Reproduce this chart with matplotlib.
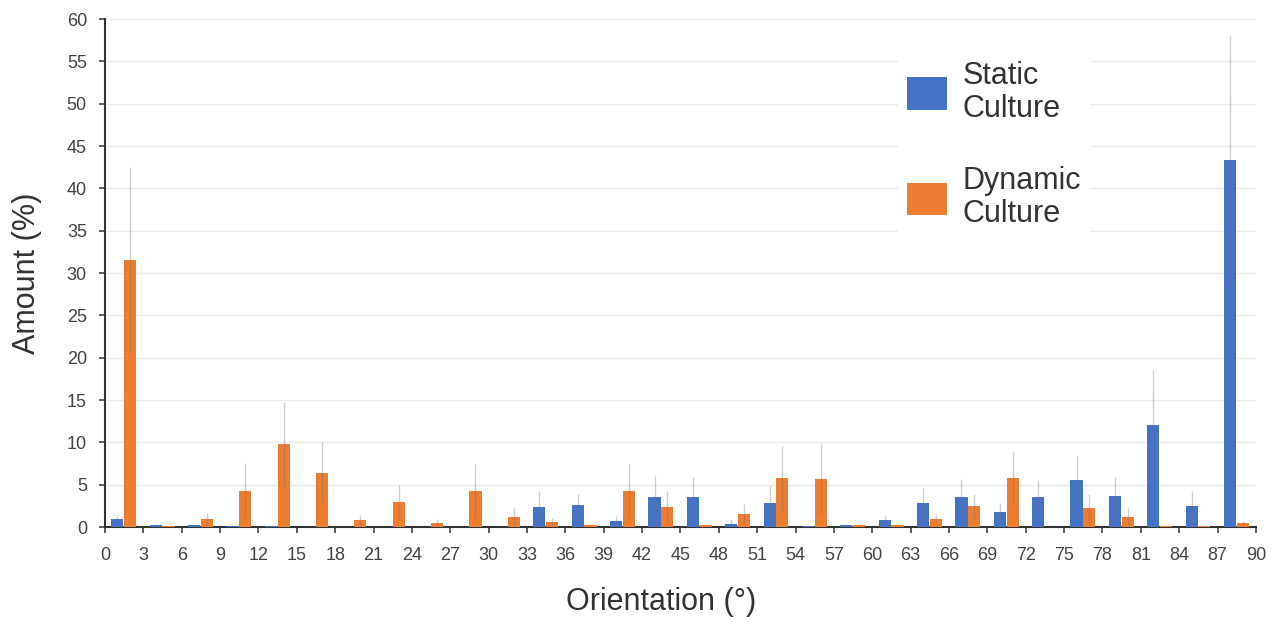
import matplotlib
matplotlib.use("Agg")
from matplotlib import pyplot as plt
import numpy as np

plt.rcParams['font.family'] = ['Liberation Sans', 'DejaVu Sans']

# Orientation bins (degrees), 3 degree wide
bin_edges = [0, 3, 6, 9, 12, 15, 18, 21, 24, 27, 30, 33, 36, 39, 42, 45,
             48, 51, 54, 57, 60, 63, 66, 69, 72, 75, 78, 81, 84, 87, 90]

static_vals = [1.0, 0.3, 0.2, 0.1, 0.1, 0.05, 0.0, 0.05, 0.0, 0.05,
               0.0, 2.4, 2.6, 0.7, 3.6, 3.5, 0.4, 2.8, 0.1, 0.3,
               0.8, 2.8, 3.5, 1.8, 3.6, 5.6, 3.7, 12.0, 2.5, 43.3]
static_err = [0.3, 0.1, 0.1, 0.0, 0.0, 0.0, 0.0, 0.0, 0.0, 0.0,
              0.0, 1.8, 1.3, 0.6, 2.4, 2.4, 0.4, 2.0, 0.0, 0.1,
              0.5, 1.8, 2.2, 1.1, 1.8, 2.8, 2.2, 6.5, 1.7, 14.7]

dynamic_vals = [31.5, 0.1, 0.9, 4.3, 9.8, 6.4, 0.8, 3.0, 0.5, 4.3,
                1.2, 0.6, 0.2, 4.3, 2.4, 0.3, 1.6, 5.8, 5.7, 0.3,
                0.3, 1.0, 2.5, 5.8, 0.05, 2.2, 1.2, 0.1, 0.1, 0.5]
dynamic_err = [11.0, 0.05, 0.8, 3.3, 5.0, 3.6, 0.6, 2.0, 0.5, 3.2,
               1.0, 0.5, 0.1, 3.2, 1.8, 0.1, 1.1, 3.8, 4.1, 0.1,
               0.1, 0.5, 1.4, 3.1, 0.25, 1.7, 1.0, 0.0, 0.0, 0.2]

blue = '#4472C4'
orange = '#ED7D31'
text_col = '#333333'

starts = np.array(bin_edges[:-1], dtype=float)
width = 0.95
err_style = dict(ecolor=(0.45, 0.45, 0.45, 0.35), elinewidth=1, capsize=0)

fig = plt.figure(figsize=(12.85, 6.23), dpi=100)
ax = fig.add_axes([0.0817, 0.154, 0.8957, 0.8155])

ax.bar(starts + 0.97, static_vals, width, yerr=static_err, color=blue,
       error_kw=err_style, label='Static\nCulture', zorder=3)
ax.bar(starts + 1.97, dynamic_vals, width, yerr=dynamic_err, color=orange,
       error_kw=err_style, label='Dynamic\nCulture', zorder=3)

ax.set_xlim(0, 90)
ax.set_ylim(0, 60)
ax.set_xticks(bin_edges)
ax.set_xticklabels([str(b) for b in bin_edges])
ax.set_yticks(range(0, 61, 5))
ax.yaxis.grid(True, color='#ebebeb', linewidth=1, zorder=0)
ax.set_axisbelow(True)

for side in ['top', 'right']:
    ax.spines[side].set_visible(False)
for side in ['left', 'bottom']:
    ax.spines[side].set_color('#333333')
    ax.spines[side].set_linewidth(1.5)

ax.tick_params(axis='both', labelsize=13, colors='#444444', length=4,
               width=1.2, direction='out')
ax.tick_params(axis='x', pad=10)
ax.tick_params(axis='y', pad=9)

ax.set_xlabel('Orientation (°)', fontsize=22, color=text_col)
ax.set_ylabel('Amount (%)', fontsize=22, color=text_col)
ax.xaxis.set_label_coords(0.483, -0.118)
ax.yaxis.set_label_coords(-0.055, 0.5)

leg = ax.legend(loc='upper left', bbox_to_anchor=(0.676, 0.965), fontsize=22,
                frameon=True, facecolor='white', edgecolor='none',
                framealpha=1, handlelength=1.3, handleheight=1.25,
                labelspacing=1.4, handletextpad=0.5, borderpad=0.3)
for t in leg.get_texts():
    t.set_color(text_col)
    t.set_linespacing(1.1)

fig.savefig('out.png', dpi=100)
